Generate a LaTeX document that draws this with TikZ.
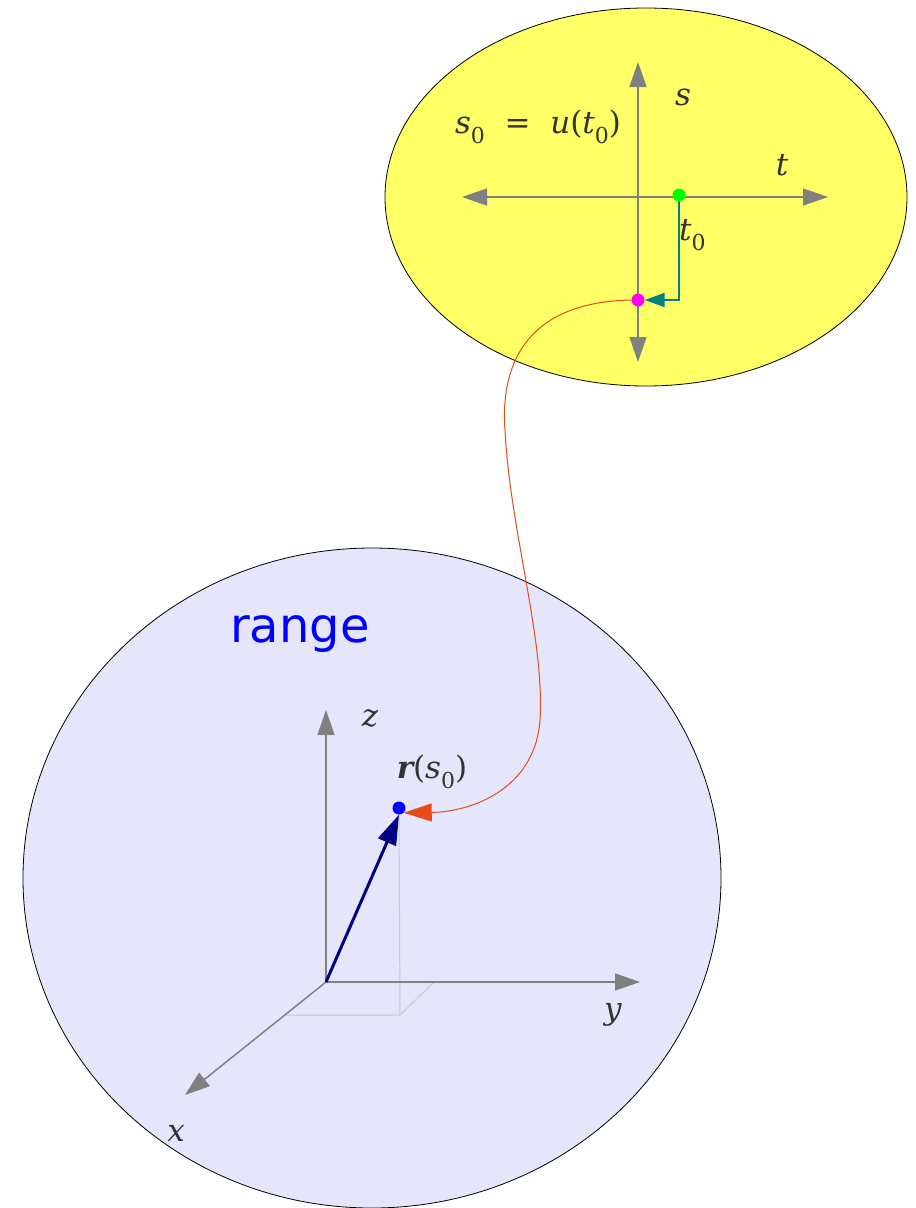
\documentclass[tikz,border=0pt]{standalone}
\usepackage{fontspec}
\setmainfont{DejaVu Serif}
\newfontfamily\dvsans{DejaVu Sans}
\usetikzlibrary{arrows.meta,shapes.geometric}
\pgfdeclarelayer{back}
\pgfdeclarelayer{mid}
\pgfsetlayers{back,mid,main}
\definecolor{yel}{RGB}{255,255,102}
\definecolor{lav}{RGB}{229,229,252}
\definecolor{axg}{RGB}{128,128,128}
\definecolor{txt}{RGB}{51,51,51}
\definecolor{tealc}{RGB}{0,128,128}
\definecolor{redc}{RGB}{230,76,25}
\definecolor{navyc}{RGB}{0,0,128}
\definecolor{lgray}{RGB}{200,200,200}
\definecolor{magc}{RGB}{255,0,255}
\definecolor{greenc}{RGB}{0,255,0}
\newcommand{\zsub}{\raisebox{-0.3em}{\fontsize{22pt}{22pt}\selectfont\upshape 0}}
\tikzset{
  region/.style={ellipse, draw=black, line width=0.8pt, inner sep=0pt},
  axisline/.style={draw=axg, line width=1.5pt},
  axtip/.style={-{Triangle[length=25pt,width=17pt]}},
  bothtip/.style={{Triangle[length=25pt,width=17pt]}-{Triangle[length=25pt,width=17pt]}},
  dot/.style={circle, inner sep=0pt, minimum size=13pt},
  lbl/.style={text=txt, font=\fontsize{31pt}{31pt}\selectfont\itshape, inner sep=0pt},
  guide/.style={draw=lgray, line width=1pt}
}
\begin{document}
\begin{tikzpicture}[x=1pt,y=-1pt]
\useasboundingbox (0,0) rectangle (916,1208);
% regions
\begin{pgfonlayer}{back}
\node[region, fill=yel, minimum width=522pt, minimum height=378pt] (dom) at (646,197) {};
\node[region, fill=lav, minimum width=698pt, minimum height=660pt] (rng) at (372,878) {};
\end{pgfonlayer}
% dots
\node[dot, fill=greenc] (g) at (679,195) {};
\node[dot, fill=magc] (m) at (638,300) {};
\node[dot, fill=blue] (b) at (399,808) {};
% top axes
\coordinate (tL) at (462,197);
\coordinate (tR) at (828,197);
\coordinate (sT) at (638,62);
\coordinate (sB) at (638,362);
\coordinate (O) at (326,982);
\coordinate (zT) at (326,710);
\coordinate (yR) at (640,982);
\coordinate (xE) at (185,1095);
\coordinate (P) at (400,1015);
\coordinate (Px) at (285,1015);
\coordinate (Py) at (434,982);
\begin{pgfonlayer}{mid}
\draw[axisline, bothtip] (tL) -- (tR);
\draw[axisline, bothtip] (sT) -- (sB);
\draw[tealc, line width=1.6pt, -{Triangle[length=20pt,width=14pt]}] (g.center) |- (m.east);
\draw[guide] (b.center) -- (P) -- (Px);
\draw[guide] (P) -- (Py);
\draw[axisline, axtip] (O) -- (zT);
\draw[axisline, axtip] (O) -- (yR);
\draw[axisline, axtip] (O) -- (xE);
\draw[navyc, line width=3pt, -{Triangle[length=30pt,width=19pt]}] (O) -- (b.south);
\draw[redc, line width=1pt, -{Triangle[length=28pt,width=18pt]}] (m.west) .. controls (530,302) and (500,360) .. (505,430) .. controls (510,530) and (545,640) .. (540,720) .. controls (535,790) and (470,812) .. (b.south east);
\end{pgfonlayer}
% labels
\node[lbl] (ls) at (683,97) {s};
\node[lbl] (lt) at (782,165) {t};
\node[lbl, anchor=west] (lt0) at (679,235) {t\zsub};
\node[lbl] (lsu) at (538,127) {s\zsub\ \ =\ \ u\upshape(\itshape t\zsub\upshape)};
\node[lbl] (lz) at (370,718) {z};
\node[lbl] (ly) at (613,1015) {y};
\node[lbl] (lx) at (176,1133) {x};
\node[lbl] (lr) at (432,772) {\bfseries r\mdseries\upshape(\itshape s\zsub\upshape)};
\node[text=blue, font=\dvsans\fontsize{48pt}{48pt}\selectfont, inner sep=0pt] (lrange) at (300,634) {range};
\end{tikzpicture}
\end{document}
